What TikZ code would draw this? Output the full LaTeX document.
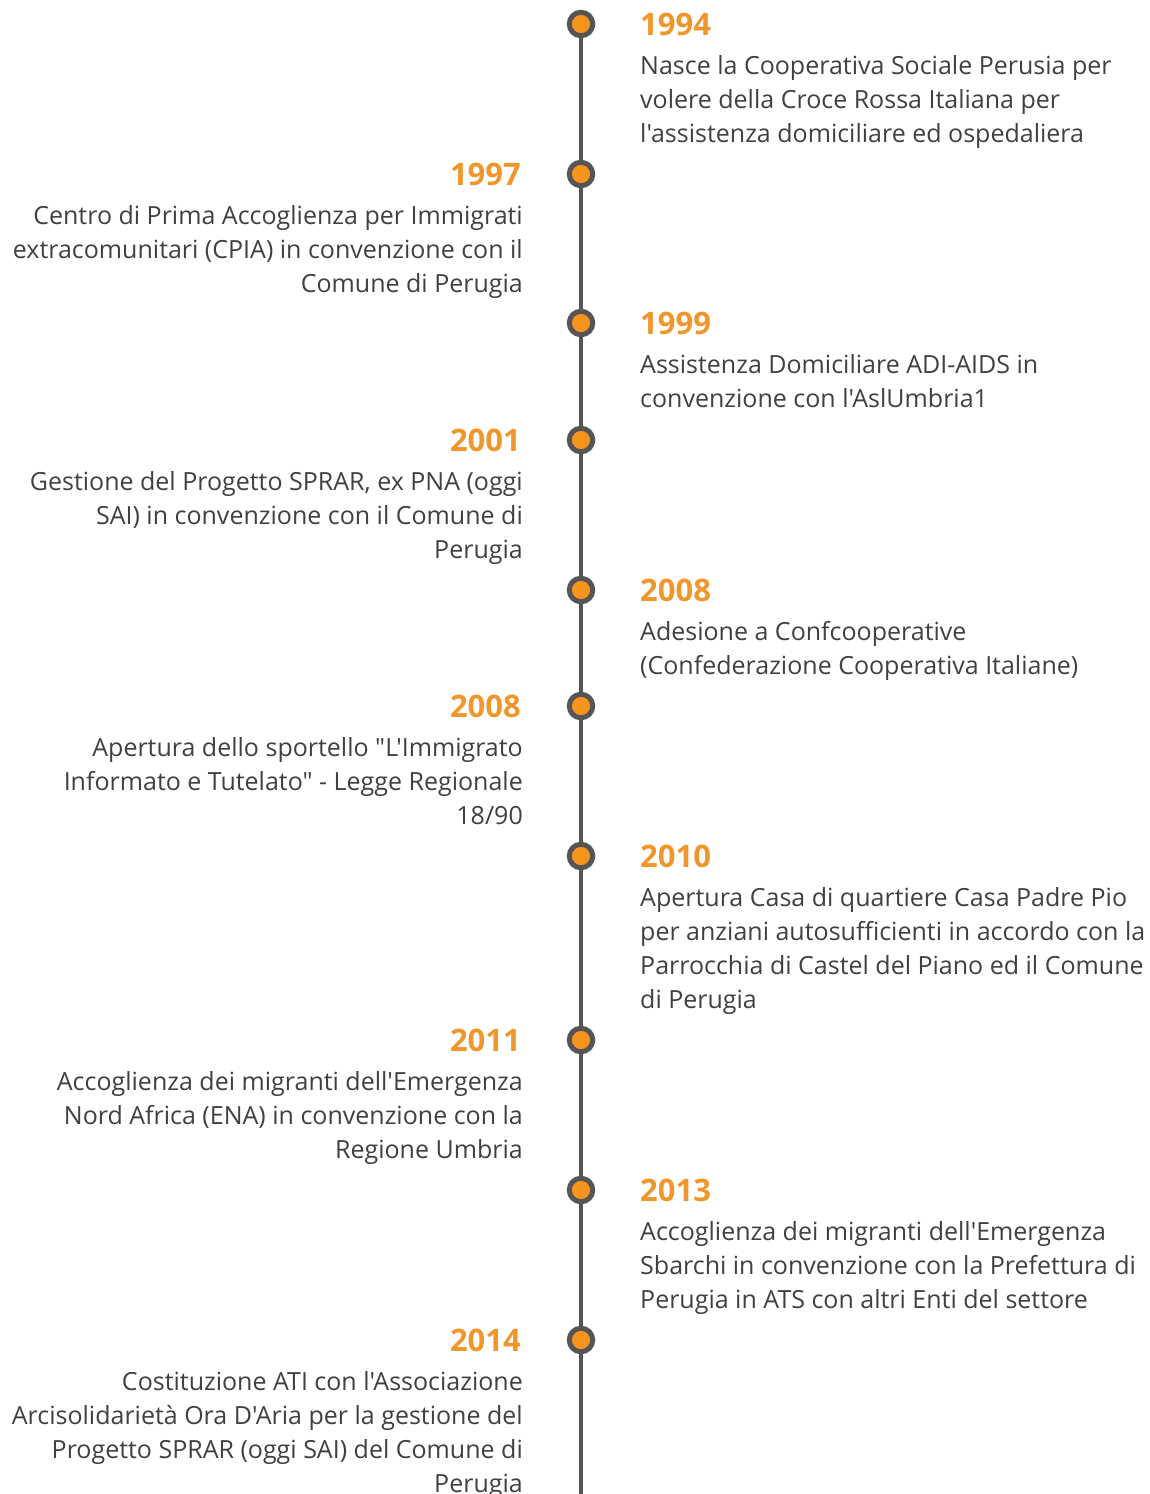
\documentclass[tikz,border=0pt]{standalone}
\usepackage{fontspec}
\setmainfont{Open Sans}[Ligatures=TeXOff]
\definecolor{orng}{HTML}{F0962A}
\definecolor{dotfill}{HTML}{F7941D}
\definecolor{axis}{HTML}{555555}
\definecolor{txt}{HTML}{404040}
\tikzset{
  yearR/.style={anchor=base west, inner sep=0pt, text=orng, font=\fontsize{31}{34}\selectfont\bfseries},
  yearL/.style={anchor=base east, inner sep=0pt, text=orng, font=\fontsize{31}{34}\selectfont\bfseries},
  descR/.style={anchor=north west, inner sep=0pt, text=txt, align=left, font=\fontsize{25}{34}\selectfont},
  descL/.style={anchor=north east, inner sep=0pt, text=txt, align=right, font=\fontsize{25}{34}\selectfont},
  dot/.style={circle, draw=axis, line width=5pt, fill=dotfill, minimum size=23.5pt, inner sep=0pt},
}
\begin{document}
\begin{tikzpicture}[x=1pt,y=-1pt]
\useasboundingbox (0,0) rectangle (1149,1494);
\coordinate (top) at (581,24);
\coordinate (bot) at (581,1494);
\draw[axis, line width=4pt] (top) -- (bot);
% dots
\foreach \n/\y in {a/24,b/174,c/323,d/440,e/590,f/706,g/856,h/1040,i/1190,j/1340}{
  \node[dot] (d\n) at (581,\y) {};
}
% right side
\node[yearR] (y1994) at (640,35) {1994};
\node[descR] (t1994) at (640,55) {Nasce la Cooperativa Sociale Perusia per\\volere della Croce Rossa Italiana per\\l'assistenza domiciliare ed ospedaliera};
\node[yearR] (y1999) at (640,334) {1999};
\node[descR] (t1999) at (640,354) {Assistenza Domiciliare ADI-AIDS in\\convenzione con l'AslUmbria1};
\node[yearR] (y2008a) at (640,601) {2008};
\node[descR] (t2008a) at (640,621) {Adesione a Confcooperative\\(Confederazione Cooperativa Italiane)};
\node[yearR] (y2010) at (640,867) {2010};
\node[descR] (t2010) at (640,887) {Apertura Casa di quartiere Casa Padre Pio\\per anziani autosufficienti in accordo con la\\Parrocchia di Castel del Piano ed il Comune\\di Perugia};
\node[yearR] (y2013) at (640,1201) {2013};
\node[descR] (t2013) at (640,1221) {Accoglienza dei migranti dell'Emergenza\\Sbarchi in convenzione con la Prefettura di\\Perugia in ATS con altri Enti del settore};
% left side
\node[yearL] (y1997) at (521,185) {1997};
\node[descL] (t1997) at (523,205) {Centro di Prima Accoglienza per Immigrati\\extracomunitari (CPIA) in convenzione con il\\Comune di Perugia};
\node[yearL] (y2001) at (521,451) {2001};
\node[descL] (t2001) at (523,471) {Gestione del Progetto SPRAR, ex PNA (oggi\\SAI) in convenzione con il Comune di\\Perugia};
\node[yearL] (y2008b) at (521,717) {2008};
\node[descL] (t2008b) at (523,737) {Apertura dello sportello "L'Immigrato\\Informato e Tutelato" - Legge Regionale\\18/90};
\node[yearL] (y2011) at (521,1051) {2011};
\node[descL] (t2011) at (523,1071) {Accoglienza dei migranti dell'Emergenza\\Nord Africa (ENA) in convenzione con la\\Regione Umbria};
\node[yearL] (y2014) at (521,1351) {2014};
\node[descL] (t2014) at (523,1371) {Costituzione ATI con l'Associazione\\Arcisolidarietà Ora D'Aria per la gestione del\\Progetto SPRAR (oggi SAI) del Comune di\\Perugia};
\end{tikzpicture}
\end{document}
